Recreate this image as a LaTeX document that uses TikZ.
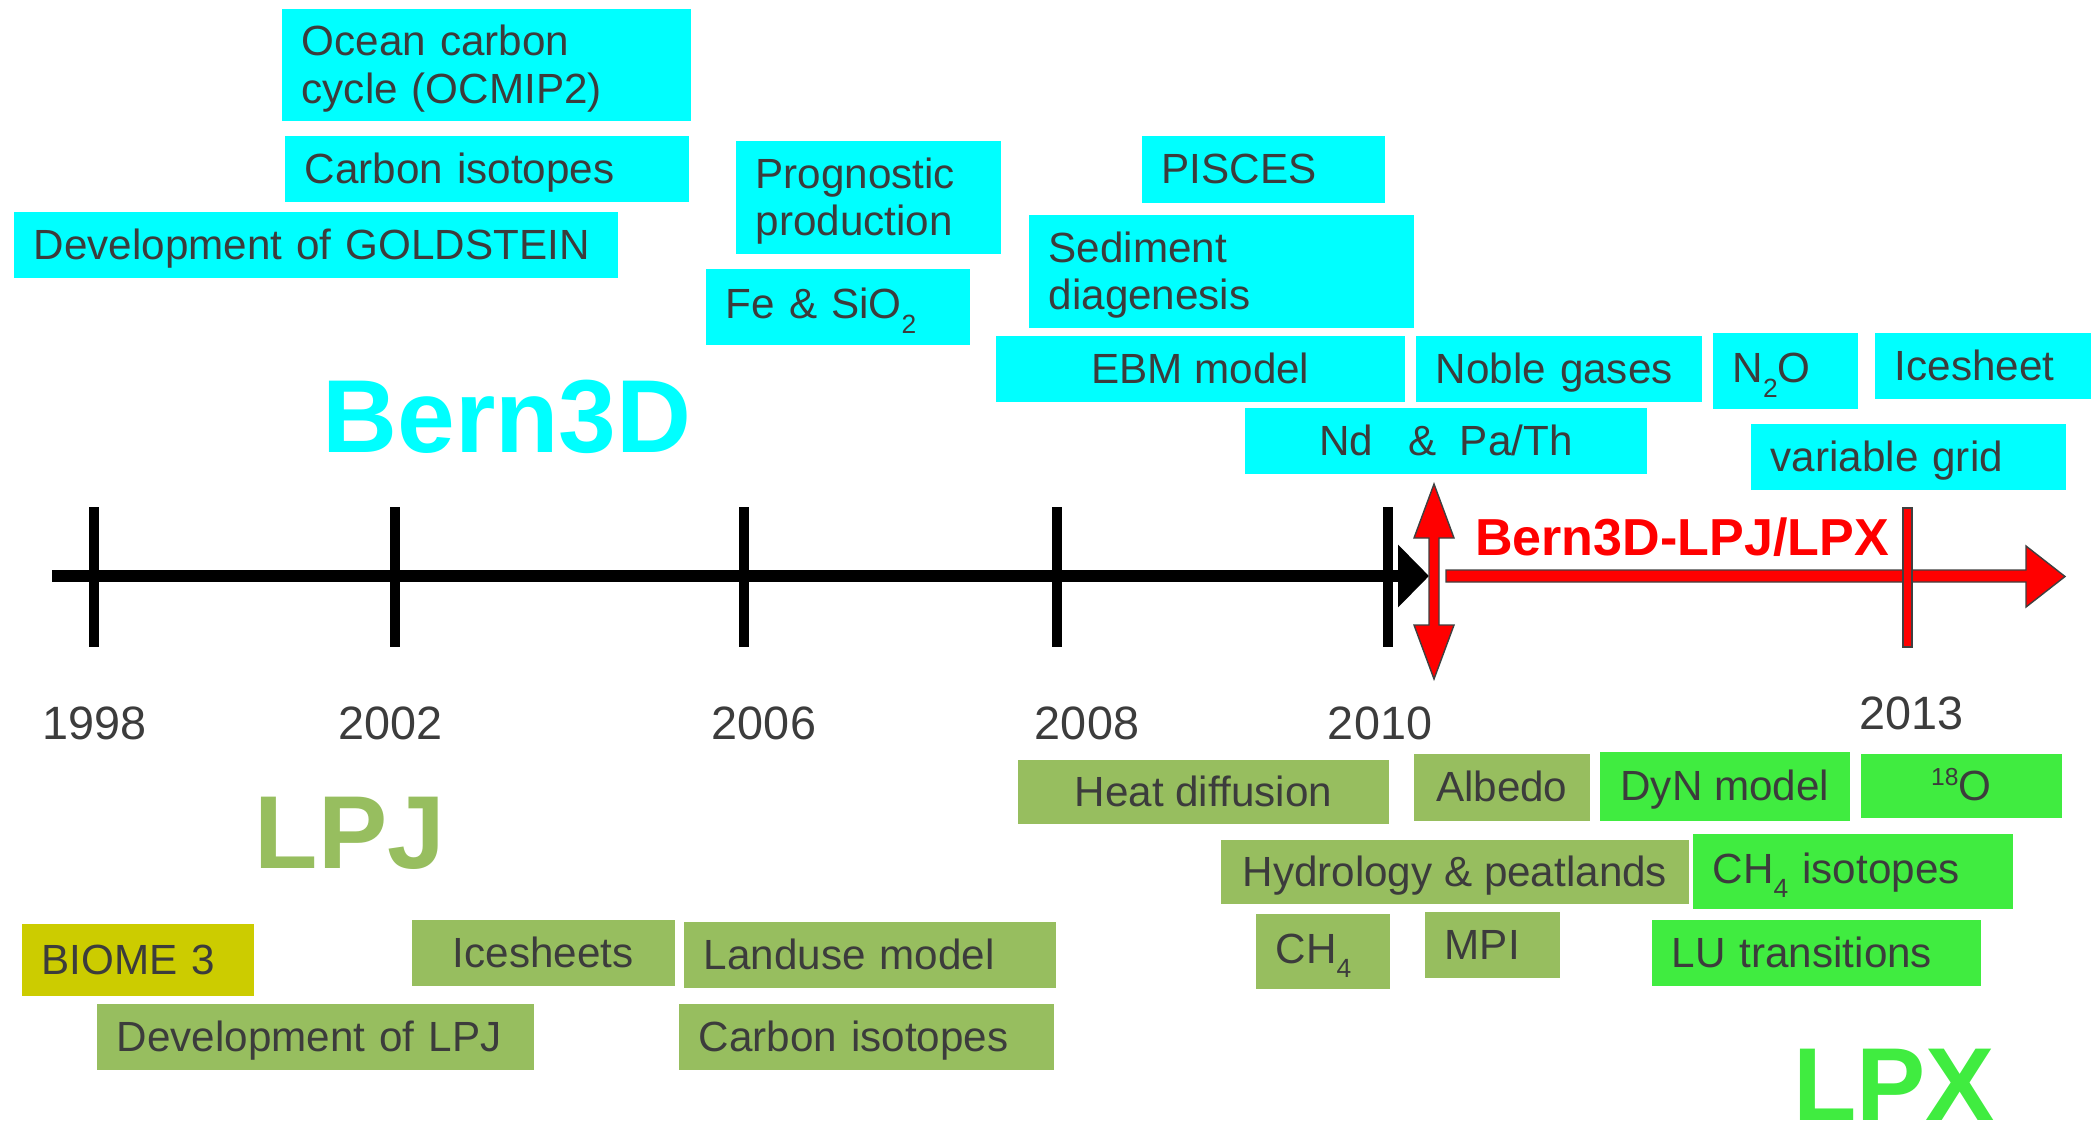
\documentclass[tikz,border=0pt]{standalone}
\usepackage{fontspec}
\setmainfont{Liberation Sans}
\usetikzlibrary{arrows.meta}
\definecolor{bern}{RGB}{0,255,255}
\definecolor{lpjgreen}{RGB}{151,190,95}
\definecolor{lpxgreen}{RGB}{64,236,64}
\definecolor{biomeyellow}{RGB}{204,204,0}
\definecolor{ink}{RGB}{60,60,60}
\definecolor{arrowred}{RGB}{255,0,0}
\newcommand{\boxfont}{\fontsize{12pt}{13.6pt}\selectfont}
\newcommand{\yearfont}{\fontsize{13.3pt}{15pt}\selectfont}
\newcommand{\bigfont}{\fontsize{29.5pt}{32pt}\selectfont\bfseries}
\newcommand{\lostrut}{\rule[-0.212em]{0pt}{1.117em}}
\newcommand{\lowsub}[1]{\raisebox{-0.34em}{\fontsize{7.5pt}{8pt}\selectfont #1}}
\newcommand{\highsup}[1]{\raisebox{0.36em}{\fontsize{7pt}{8pt}\selectfont #1}}

\begin{document}
\begin{tikzpicture}[x=0.01cm, y=-0.01cm,
    boxbase/.style={anchor=north west, inner xsep=0.2cm, inner ysep=0pt, text=ink, font=\boxfont,
        execute at begin node=\lostrut},
    bernbox/.style={boxbase, fill=bern},
    lpjbox/.style={boxbase, fill=lpjgreen},
    lpxbox/.style={boxbase, fill=lpxgreen},
    year/.style={anchor=base, text=ink, font=\yearfont},
    model/.style={anchor=base, font=\bigfont},
    yeartick/.style={line width=0.095cm},
    timeline/.style={line width=0.12cm, -{Triangle[length=0.31cm,width=0.61cm]}},
    block/.style={fill=arrowred, draw=black!75, line width=0.4pt}]
    \useasboundingbox (0,0) rectangle (2091,1123);
    % Bern3D developments (above the time line)
    \node[bernbox, minimum width=4.09cm, minimum height=1.12cm, text width=3.69cm, align=left] (ocean) at (281,8) {Ocean carbon\\cycle (OCMIP2)};
    \node[bernbox, minimum width=4.04cm, minimum height=0.66cm, text width=3.64cm, align=left] (bisotopes) at (284,135) {Carbon isotopes};
    \node[bernbox, minimum width=6.04cm, minimum height=0.66cm, text width=5.64cm, align=left] (goldstein) at (13,211) {Development of GOLDSTEIN};
    \node[bernbox, minimum width=2.65cm, minimum height=1.13cm, text width=2.25cm, align=left] (prognostic) at (735,140) {Prognostic\\production};
    \node[bernbox, minimum width=2.64cm, minimum height=0.76cm, text width=2.24cm, align=left] (fesio) at (705,268) {Fe \& SiO\lowsub{2}};
    \node[bernbox, minimum width=2.43cm, minimum height=0.67cm, text width=2.03cm, align=left] (pisces) at (1141,135) {PISCES};
    \node[bernbox, minimum width=3.85cm, minimum height=1.13cm, text width=3.45cm, align=left] (sediment) at (1028,214) {Sediment\\diagenesis};
    \node[bernbox, minimum width=4.09cm, minimum height=0.66cm] (ebm) at (995,335) {EBM model};
    \node[bernbox, minimum width=2.86cm, minimum height=0.66cm, text width=2.46cm, align=left] (noble) at (1415,335) {Noble gases};
    \node[bernbox, minimum width=1.45cm, minimum height=0.76cm, text width=1.05cm, align=left] (ntwoo) at (1712,332) {N\lowsub{2}O};
    \node[bernbox, minimum width=2.17cm, minimum height=0.66cm, text width=1.77cm, align=left] (icesheet) at (1874,332) {Icesheet};
    \node[bernbox, minimum width=4.02cm, minimum height=0.66cm] (ndpa) at (1244,407) {Nd\ \ \ \&\ \ Pa/Th};
    \node[bernbox, minimum width=3.15cm, minimum height=0.66cm, text width=2.75cm, align=left] (vargrid) at (1750,423) {variable grid};
    \node[model, text=bern] (bern3d) at (507,452) {Bern3D};

    % time line with year ticks
    \coordinate (tlstart) at (52,576);
    \coordinate (tltip) at (1429,576);
    \draw[timeline] (tlstart) -- (tltip);
    \foreach \tx in {94,395,744,1057,1388}
        \draw[yeartick] (\tx,507) -- (\tx,647);
    \foreach \yr/\lx in {1998/95,2002/391,2006/764,2008/1087,2010/1380}
        \node[year] (y\yr) at (\lx,739) {\yr};
    \node[year] (y2013) at (1911,729) {2013};

    % coupled model period (red block arrows)
    \draw[block] (1446,570) -- (2026,570) -- (2026,546) -- (2065,576.5) -- (2026,607)
        -- (2026,582) -- (1446,582) -- cycle;
    \draw[block] (1903,508) rectangle (1912,647);
    \draw[block] (1434,484) -- (1454,538) -- (1439,538) -- (1439,625) -- (1454,625) -- (1434,679)
        -- (1414,625) -- (1429,625) -- (1429,538) -- (1414,538) -- cycle;
    \node[anchor=base, text=arrowred, font=\fontsize{14.8pt}{16pt}\selectfont\bfseries] (coupled) at (1682,555) {Bern3D-LPJ/LPX};

    % LPJ / LPX developments (below the time line)
    \node[model, text=lpjgreen] (lpj) at (350,868) {LPJ};
    \node[lpjbox, minimum width=3.71cm, minimum height=0.64cm] (heat) at (1017,759) {Heat diffusion};
    \node[lpjbox, minimum width=1.76cm, minimum height=0.67cm] (albedo) at (1413,753) {Albedo};
    \node[lpxbox, minimum width=2.50cm, minimum height=0.69cm] (dyn) at (1599,751) {DyN model};
    \node[lpxbox, minimum width=2.01cm, minimum height=0.64cm] (oxygen) at (1860,753) {\highsup{18}O};
    \node[lpjbox, minimum width=4.68cm, minimum height=0.64cm] (hydro) at (1220,839) {Hydrology \& peatlands};
    \node[lpxbox, minimum width=3.20cm, minimum height=0.75cm, text width=2.80cm, align=left] (chisotopes) at (1692,833) {CH\lowsub{4} isotopes};
    \node[lpjbox, minimum width=1.34cm, minimum height=0.75cm, text width=0.94cm, align=left] (methane) at (1255,913) {CH\lowsub{4}};
    \node[lpjbox, minimum width=1.35cm, minimum height=0.66cm, text width=0.95cm, align=left] (mpi) at (1424,911) {MPI};
    \node[lpxbox, minimum width=3.29cm, minimum height=0.66cm, text width=2.89cm, align=left] (lutrans) at (1651,919) {LU transitions};
    \node[boxbase, fill=biomeyellow, minimum width=2.32cm, minimum height=0.72cm, text width=1.92cm, align=left] (biome) at (21,923) {BIOME 3};
    \node[lpjbox, minimum width=2.63cm, minimum height=0.66cm] (icesheets) at (411,919) {Icesheets};
    \node[lpjbox, minimum width=3.72cm, minimum height=0.66cm, text width=3.32cm, align=left] (landuse) at (683,921) {Landuse model};
    \node[lpjbox, minimum width=4.37cm, minimum height=0.66cm, text width=3.97cm, align=left] (devlpj) at (96,1003) {Development of LPJ};
    \node[lpjbox, minimum width=3.75cm, minimum height=0.66cm, text width=3.35cm, align=left] (lisotopes) at (678,1003) {Carbon isotopes};
    \node[model, text=lpxgreen] (lpx) at (1894,1120) {LPX};
\end{tikzpicture}
\end{document}
